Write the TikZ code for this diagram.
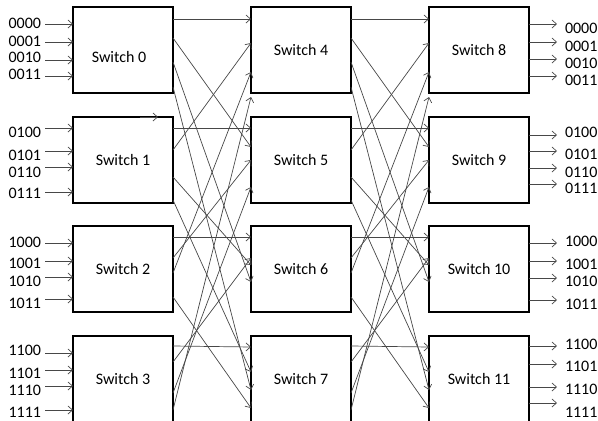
\documentclass[tikz,border=0pt]{standalone}
\usepackage{fontspec}
\setmainfont{Carlito}
\usetikzlibrary{arrows.meta}
\begin{document}
\begin{tikzpicture}[x=1pt,y=-1pt,
  sw/.style={draw=black,line width=1.8pt,minimum width=100pt,minimum height=86pt,inner sep=0pt,outer sep=0pt,font=\fontsize{16}{18}\selectfont},
  link/.style={draw=black!72,line width=0.7pt,-{Straight Barb[length=4.5pt,width=8pt]}},
  lbl/.style={inner sep=0pt,outer sep=0pt,font=\fontsize{16}{18}\selectfont}]
\useasboundingbox (0,0) rectangle (598,421);
% switches
\node[sw] (s0) at (123,50) {};
\node[lbl] (s0t) at (119,57) {Switch 0};
\node[sw] (s1) at (123,160) {Switch 1};
\node[sw] (s2) at (123,269) {Switch 2};
\node[sw] (s3) at (123,379) {Switch 3};
\node[sw] (s4) at (301,50) {Switch 4};
\node[sw] (s5) at (301,160) {Switch 5};
\node[sw] (s6) at (301,269) {Switch 6};
\node[sw] (s7) at (301,379) {Switch 7};
\node[sw] (s8) at (479,50) {Switch 8};
\node[sw] (s9) at (479,160) {Switch 9};
\node[sw] (s10) at (479,269) {Switch 10};
\node[sw] (s11) at (479,379) {Switch 11};
% inputs
\foreach \s/\ay/\ly/\t [count=\k] in {
  0/24/23/0000, 0/42/41/0001, 0/60/57/0010, 0/76/74/0011,
  1/128/132/0100, 1/151/155/0101, 1/167/172/0110, 1/192/193/0111,
  2/243/242/1000, 2/261/263/1001, 2/277/281/1010, 2/299/303/1011,
  3/353/350/1100, 3/370/373/1101, 3/386/390/1110, 3/410/412/1111}{
  \node[lbl,anchor=east] (il\k) at (41,\ly) {\t};
  \coordinate (ia\k) at (45,\ay);
  \draw[link] (ia\k) -- (s\s.west |- ia\k);
}
% outputs
\foreach \s/\ay/\ly/\t [count=\k] in {
  8/24/28/0000, 8/42/46/0001, 8/59/63/0010, 8/76/80/0011,
  9/135/132/0100, 9/151/154/0101, 9/168/172/0110, 9/184/188/0111,
  10/243/241/1000, 10/261/264/1001, 10/278/281/1010, 10/300/304/1011,
  11/346/344/1100, 11/364/366/1101, 11/387/389/1110, 11/403/412/1111}{
  \node[lbl,anchor=west] (ol\k) at (565,\ly) {\t};
  \coordinate (oa\k) at (557,\ay);
  \draw[link] (s\s.east |- oa\k) -- (oa\k);
}
% interconnections
\foreach \a/\ya/\b/\yb in {
  0/19/4/19, 0/38/5/147, 0/62/6/282, 0/87/7/390,
  1/128/5/128, 1/150/4/43, 1/177/6/265, 1/200/7/372,
  2/237/6/237, 2/258/5/160, 2/273/4/72, 2/297/7/408,
  3/346/7/347, 3/362/6/258, 3/393/5/187, 3/410/4/97}{
  \pgfmathtruncatemacro{\c}{\a+4}
  \pgfmathtruncatemacro{\d}{\b+4}
  \draw[link] (s\a.east |- 0,\ya) -- (s\b.west |- 0,\yb);
  \draw[link] (s\c.east |- 0,\ya) -- (s\d.west |- 0,\yb);
}
% stray arrow on top of switch 1
\draw[link] (s1.north -| 140,0) -- (s1.north -| 158,0);
\end{tikzpicture}
\end{document}
